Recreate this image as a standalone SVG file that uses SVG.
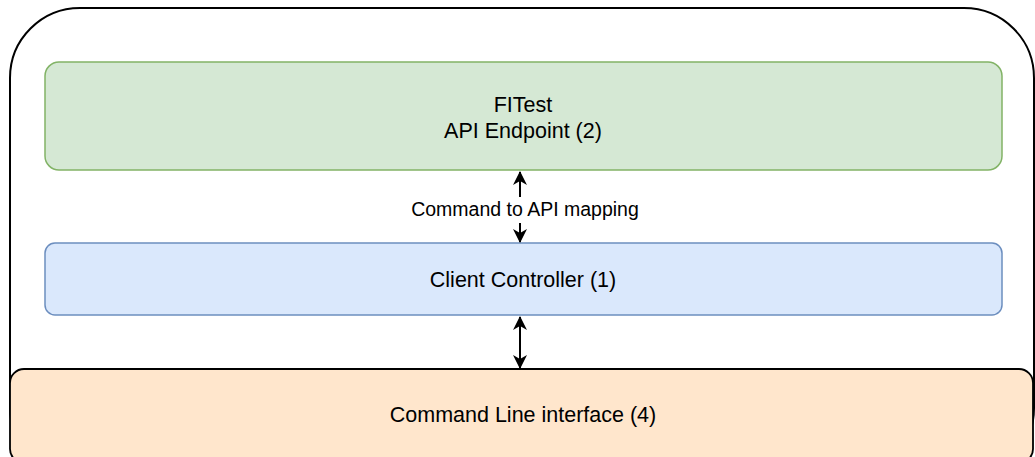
<svg xmlns="http://www.w3.org/2000/svg" width="1035" height="457" viewBox="0 0 1035 457">
<defs>
<style>
.t{font-family:"Liberation Sans",Arial,sans-serif;font-size:21.5px;fill:#000;text-anchor:middle}
.lbl{font-family:"Liberation Sans",Arial,sans-serif;font-size:19.5px;fill:#000;text-anchor:middle}
.c{stroke:#000;stroke-width:2;fill:none}
</style>
<marker id="ah" viewBox="0 0 14 14" refX="13" refY="7" markerWidth="14" markerHeight="14" markerUnits="userSpaceOnUse" orient="auto-start-reverse">
<path d="M0,0 L14,7 L0,14 L4,7 Z" fill="#000"/>
</marker>
</defs>
<rect width="1035" height="457" fill="#fff"/>
<g id="container">
<rect x="10" y="8" width="1024" height="470" rx="70" ry="70" fill="#fff" stroke="#000" stroke-width="2"/>
</g>
<g id="api">
<rect x="45" y="62" width="957" height="108" rx="14" fill="#d5e8d4" stroke="#82b366" stroke-width="1.5"/>
<text class="t" x="523" y="112">FITest</text>
<text class="t" x="523" y="138">API Endpoint (2)</text>
</g>
<g id="controller">
<rect x="45" y="243" width="957" height="72" rx="10" fill="#dae8fc" stroke="#6c8ebf" stroke-width="1.5"/>
<text class="t" x="523" y="287">Client Controller (1)</text>
</g>
<g id="cli">
<rect x="10" y="369" width="1023" height="94" rx="14" fill="#ffe6cc" stroke="#000" stroke-width="1.8"/>
<text class="t" x="523" y="422">Command Line interface (4)</text>
</g>
<g id="connectors">
<path class="c" d="M520,242 L520,172" marker-start="url(#ah)" marker-end="url(#ah)"/>
<rect x="406" y="197" width="238" height="26" fill="#fff"/>
<text class="lbl" x="525" y="216">Command to API mapping</text>
<path class="c" d="M520,368 L520,317" marker-start="url(#ah)" marker-end="url(#ah)"/>
</g>
</svg>
